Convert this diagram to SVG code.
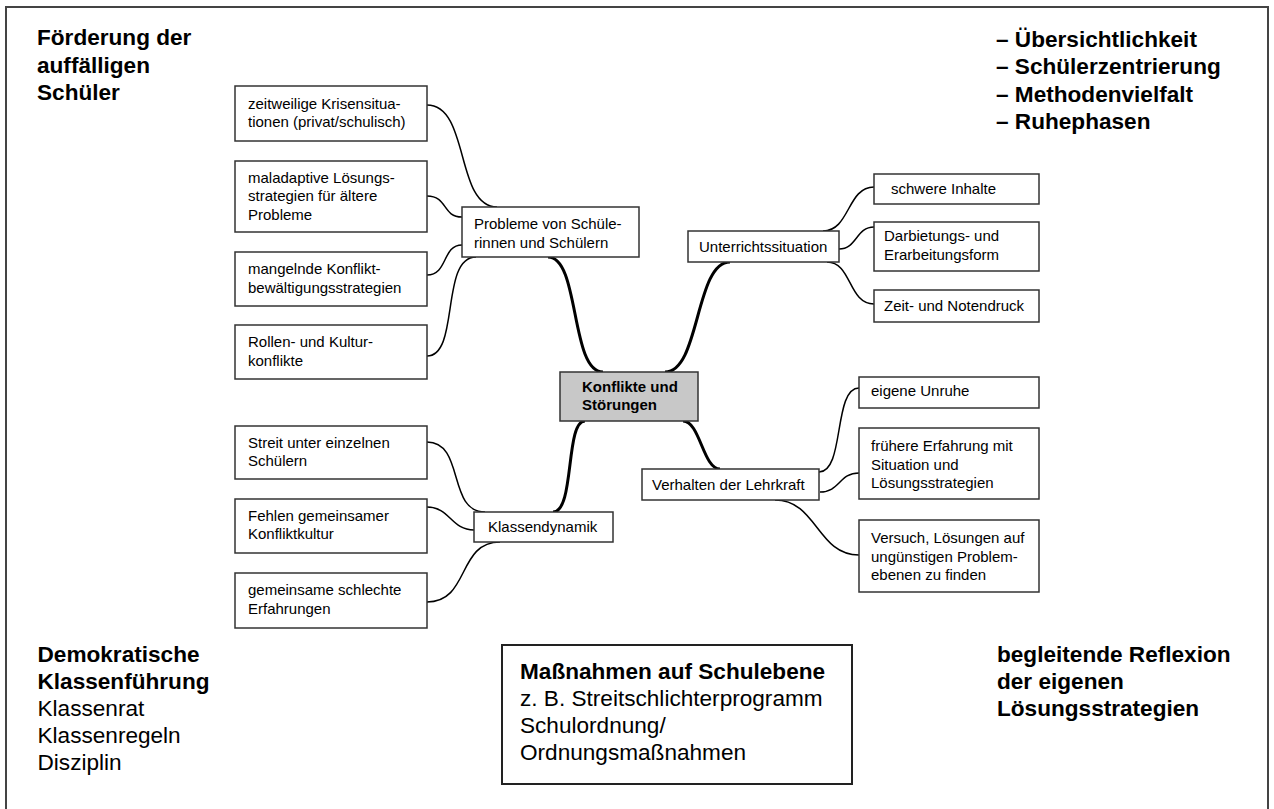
<svg xmlns="http://www.w3.org/2000/svg" width="1274" height="809" viewBox="0 0 1274 809">
<style>
  text { font-family: "Liberation Sans", Arial, sans-serif; fill: #000; }
  .s { font-size: 15px; }
  .sb { font-size: 15px; font-weight: bold; }
  .big { font-size: 22.6px; }
  .bigb { font-size: 22.6px; font-weight: bold; }
  .box { fill: #fff; stroke: #333; stroke-width: 1.5; }
  .center { fill: #c8c8c8; stroke: #333; stroke-width: 1.5; }
  .thick { fill: none; stroke: #000; stroke-width: 3; }
  .thin { fill: none; stroke: #000; stroke-width: 1.5; }
</style>
<rect x="0" y="0" width="1274" height="809" fill="#fff"/>
<rect x="6" y="7" width="1262" height="815" fill="none" stroke="#444" stroke-width="2"/>

<g id="connectors">
  <path class="thick" d="M548,257 C580,257 570,372 603,372"/>
  <path class="thick" d="M665,372 C700,372 695,262 730,262"/>
  <path class="thick" d="M585,421 C565,421 575,512 553,512"/>
  <path class="thick" d="M683,421 C700,421 703,469 720,469"/>
  <path class="thin" d="M427,105 C470,105 455,207 497,207"/>
  <path class="thin" d="M427,196 C448,196 442,217 462,217"/>
  <path class="thin" d="M427,275 C448,275 442,245 462,245"/>
  <path class="thin" d="M427,356 C460,356 440,257 476,257"/>
  <path class="thin" d="M823,231 C850,231 847,187 874,187"/>
  <path class="thin" d="M839,249 C857,249 856,227 874,227"/>
  <path class="thin" d="M827,262 C852,262 848,304 874,304"/>
  <path class="thin" d="M819,472 C845,472 833,388 859,388"/>
  <path class="thin" d="M820,492 C840,492 839,473 859,473"/>
  <path class="thin" d="M775,500 C817,500 817,555 859,555"/>
  <path class="thin" d="M427,442 C465,442 447,512 485,512"/>
  <path class="thin" d="M427,507 C450,507 451,530 474,530"/>
  <path class="thin" d="M427,602 C470,602 457,542 500,542"/>
</g>

<g id="center">
  <rect class="center" x="560" y="372" width="138" height="49"/>
  <text class="sb" x="582" y="392">Konflikte und</text>
  <text class="sb" x="582" y="410">Störungen</text>
</g>

<g id="probleme">
  <rect class="box" x="462" y="207" width="177" height="50"/>
  <text class="s" x="474" y="229">Probleme von Schüle-</text>
  <text class="s" x="474" y="247.5">rinnen und Schülern</text>
</g>
<g id="krisen">
  <rect class="box" x="235" y="86" width="192" height="55"/>
  <text class="s" x="248" y="108.5">zeitweilige Krisensitua-</text>
  <text class="s" x="248" y="127">tionen (privat/schulisch)</text>
</g>
<g id="maladaptiv">
  <rect class="box" x="235" y="161" width="192" height="71"/>
  <text class="s" x="248" y="182.5">maladaptive Lösungs-</text>
  <text class="s" x="248" y="201">strategien für ältere</text>
  <text class="s" x="248" y="219.5">Probleme</text>
</g>
<g id="mangelnde">
  <rect class="box" x="235" y="252" width="192" height="54"/>
  <text class="s" x="248" y="274">mangelnde Konflikt-</text>
  <text class="s" x="248" y="292.5">bewältigungsstrategien</text>
</g>
<g id="rollen">
  <rect class="box" x="235" y="325" width="192" height="54"/>
  <text class="s" x="248" y="347">Rollen- und Kultur-</text>
  <text class="s" x="248" y="365.5">konflikte</text>
</g>

<g id="unterricht">
  <rect class="box" x="688" y="231" width="151" height="31"/>
  <text class="s" x="699" y="252">Unterrichtssituation</text>
</g>
<g id="schwere">
  <rect class="box" x="874" y="174" width="165" height="30"/>
  <text class="s" x="891" y="193.5">schwere Inhalte</text>
</g>
<g id="darbietung">
  <rect class="box" x="874" y="222" width="165" height="49"/>
  <text class="s" x="884" y="241">Darbietungs- und</text>
  <text class="s" x="884" y="259.5">Erarbeitungsform</text>
</g>
<g id="zeit">
  <rect class="box" x="874" y="290" width="165" height="32"/>
  <text class="s" x="884" y="311">Zeit- und Notendruck</text>
</g>

<g id="verhalten">
  <rect class="box" x="642" y="469" width="177" height="31"/>
  <text class="s" x="652" y="490">Verhalten der Lehrkraft</text>
</g>
<g id="unruhe">
  <rect class="box" x="859" y="377" width="180" height="31"/>
  <text class="s" x="871" y="396">eigene Unruhe</text>
</g>
<g id="erfahrung">
  <rect class="box" x="859" y="428" width="180" height="71"/>
  <text class="s" x="871" y="451">frühere Erfahrung mit</text>
  <text class="s" x="871" y="469.5">Situation und</text>
  <text class="s" x="871" y="488">Lösungsstrategien</text>
</g>
<g id="versuch">
  <rect class="box" x="859" y="520" width="180" height="72"/>
  <text class="s" x="871" y="543">Versuch, Lösungen auf</text>
  <text class="s" x="871" y="561.5">ungünstigen Problem-</text>
  <text class="s" x="871" y="580">ebenen zu finden</text>
</g>

<g id="klassendynamik">
  <rect class="box" x="474" y="512" width="139" height="30"/>
  <text class="s" x="488" y="532">Klassendynamik</text>
</g>
<g id="streit">
  <rect class="box" x="235" y="426" width="192" height="53"/>
  <text class="s" x="248" y="447.5">Streit unter einzelnen</text>
  <text class="s" x="248" y="466">Schülern</text>
</g>
<g id="fehlen">
  <rect class="box" x="235" y="499" width="192" height="54"/>
  <text class="s" x="248" y="520.5">Fehlen gemeinsamer</text>
  <text class="s" x="248" y="539">Konfliktkultur</text>
</g>
<g id="gemeinsame">
  <rect class="box" x="235" y="573" width="192" height="55"/>
  <text class="s" x="248" y="595">gemeinsame schlechte</text>
  <text class="s" x="248" y="613.5">Erfahrungen</text>
</g>

<g id="foerderung">
  <text class="bigb" x="37" y="45">Förderung der</text>
  <text class="bigb" x="37" y="72.5">auffälligen</text>
  <text class="bigb" x="37" y="100">Schüler</text>
</g>
<g id="prinzipien">
  <text class="bigb" x="996" y="46.5">– Übersichtlichkeit</text>
  <text class="bigb" x="996" y="74">– Schülerzentrierung</text>
  <text class="bigb" x="996" y="101.5">– Methodenvielfalt</text>
  <text class="bigb" x="996" y="129">– Ruhephasen</text>
</g>
<g id="demokratisch">
  <text class="bigb" x="37.5" y="661.5">Demokratische</text>
  <text class="bigb" x="37.5" y="689">Klassenführung</text>
  <text class="big" x="37.5" y="716">Klassenrat</text>
  <text class="big" x="37.5" y="743">Klassenregeln</text>
  <text class="big" x="37.5" y="770">Disziplin</text>
</g>
<g id="reflexion">
  <text class="bigb" x="997" y="661.5">begleitende Reflexion</text>
  <text class="bigb" x="997" y="688.5">der eigenen</text>
  <text class="bigb" x="997" y="715.5">Lösungsstrategien</text>
</g>
<g id="massnahmen">
  <rect x="502" y="645" width="350" height="139" fill="#fff" stroke="#222" stroke-width="2"/>
  <text class="bigb" x="520" y="678.5">Maßnahmen auf Schulebene</text>
  <text class="big" x="520" y="706">z. B. Streitschlichterprogramm</text>
  <text class="big" x="520" y="732.5">Schulordnung/</text>
  <text class="big" x="520" y="759.5">Ordnungsmaßnahmen</text>
</g>
</svg>
